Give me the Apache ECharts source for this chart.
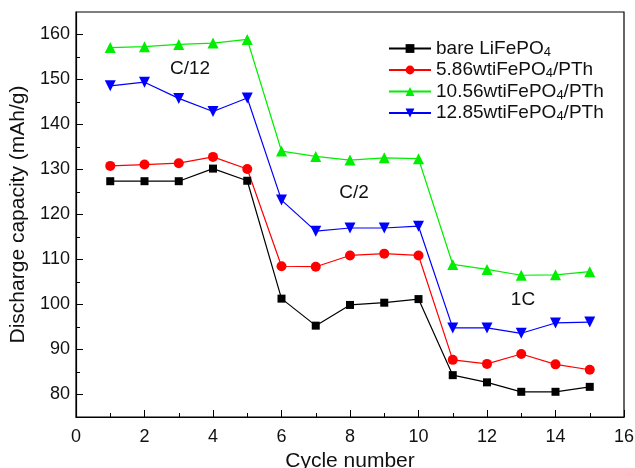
<!DOCTYPE html>
<html>
<head>
<meta charset="utf-8">
<script src="https://cdn.jsdelivr.net/npm/echarts@6/dist/echarts.min.js"></script>
<style>
* { margin: 0; padding: 0; }
body { background: #fff; }
</style>
</head>
<body>
<div id="chart" style="width: 635px;height: 468px;"></div>
<script>
// 循环次数
var cycles = [1, 2, 3, 4, 5, 6, 7, 8, 9, 10, 11, 12, 13, 14, 15]
var bareLFP = [127.4, 127.4, 127.4, 130.2, 127.5, 101.3, 95.3, 99.9, 100.4, 101.2, 84.3, 82.7, 80.6, 80.6, 81.7]
var pth586 = [130.8, 131.1, 131.4, 132.8, 130.1, 108.5, 108.4, 110.9, 111.3, 110.9, 87.7, 86.8, 89.0, 86.7, 85.5]
var pth1056 = [157.1, 157.3, 157.8, 158.1, 158.9, 134.1, 132.9, 132.1, 132.6, 132.4, 108.9, 107.8, 106.5, 106.6, 107.3]
var pth1285 = [148.6, 149.4, 145.8, 142.9, 145.9, 123.2, 116.3, 117.0, 117.0, 117.4, 94.8, 94.8, 93.6, 95.9, 96.1]
var seriesNames = ['bare LiFePO4', '5.86wtiFePO4/PTh', '10.56wtiFePO4/PTh', '12.85wtiFePO4/PTh']
var yMajor = [80, 90, 100, 110, 120, 130, 140, 150, 160]
var yMinor = [85, 95, 105, 115, 125, 135, 145, 155]
var rateLabels = ['C/12', 'C/2', '1C']

var font = 'Liberation Sans, Arial, sans-serif'

function pairs(vals) {
    return cycles.map(function (c, i) { return [c, vals[i]] })
}

function mk(name, vals, color, symbol, size) {
    return {
        type: 'line',
        name: name,
        data: pairs(vals),
        symbol: symbol,
        symbolSize: size,
        itemStyle: { color: color },
        lineStyle: { width: 1.2, color: color }
    }
}

var chart = echarts.init(document.getElementById('chart'))
chart.setOption({
    animation: false,
    grid: {
        left: 76, right: 11, top: 12, bottom: 51,
        outerBoundsMode: 'none',
        show: true, borderColor: '#000', borderWidth: 1.2
    },
    legend: {
        left: 388, top: 39, padding: 0,
        orient: 'vertical',
        itemWidth: 42, itemHeight: 11, itemGap: 2,
        data: seriesNames,
        formatter: function (n) {
            return n.replace('PO4', 'PO{sub|4}')
        },
        textStyle: {
            fontFamily: font, fontSize: 19, color: '#111',
            rich: { sub: { fontFamily: font, fontSize: 13, padding: [7, 0, 0, 0], color: '#111' } }
        }
    },
    xAxis: [{
        type: 'value', min: 0, max: 16, interval: 2,
        name: 'Cycle number', nameLocation: 'middle', nameGap: 33,
        nameTextStyle: { fontFamily: font, fontSize: 21, color: '#111' },
        axisLine: { lineStyle: { color: '#000', width: 1.2 } },
        axisTick: { inside: true, length: 7, lineStyle: { color: '#000' } },
        minorTick: { show: true, splitNumber: 2, length: 4, lineStyle: { color: '#000' } },
        axisLabel: { fontFamily: font, fontSize: 18, color: '#111', margin: 11 },
        splitLine: { show: false }
    }],
    yAxis: [{
        type: 'value', min: 75, max: 165,
        name: 'Discharge capacity (mAh/g)', nameLocation: 'middle', nameGap: 46,
        nameTextStyle: { fontFamily: font, fontSize: 21, color: '#111' },
        axisLine: { lineStyle: { color: '#000', width: 1.2 } },
        axisTick: { inside: true, length: 7, customValues: yMajor, lineStyle: { color: '#000' } },
        axisLabel: { fontFamily: font, fontSize: 18, color: '#111', margin: 6, customValues: yMajor },
        splitLine: { show: false }
    }, {
        type: 'value', min: 75, max: 165, position: 'left',
        axisLine: { show: false },
        axisTick: { inside: true, length: 4, customValues: yMinor, lineStyle: { color: '#000' } },
        axisLabel: { show: false },
        splitLine: { show: false }
    }],
    graphic: [
        { type: 'text', x: 190, y: 69, style: { text: rateLabels[0], fontFamily: font, fontSize: 19, fill: '#111', align: 'center', verticalAlign: 'middle' } },
        { type: 'text', x: 354, y: 193, style: { text: rateLabels[1], fontFamily: font, fontSize: 19, fill: '#111', align: 'center', verticalAlign: 'middle' } },
        { type: 'text', x: 523, y: 300, style: { text: rateLabels[2], fontFamily: font, fontSize: 19, fill: '#111', align: 'center', verticalAlign: 'middle' } }
    ],
    series: [
        mk(seriesNames[0], bareLFP, '#000000', 'rect', 8),
        mk(seriesNames[1], pth586, '#ff0000', 'circle', 10),
        mk(seriesNames[2], pth1056, '#00ee00', 'triangle', 11),
        mk(seriesNames[3], pth1285, '#0000ff', 'path://M0,0 L10,0 L5,9 Z', 11)
    ]
})
</script>
</body>
</html>
